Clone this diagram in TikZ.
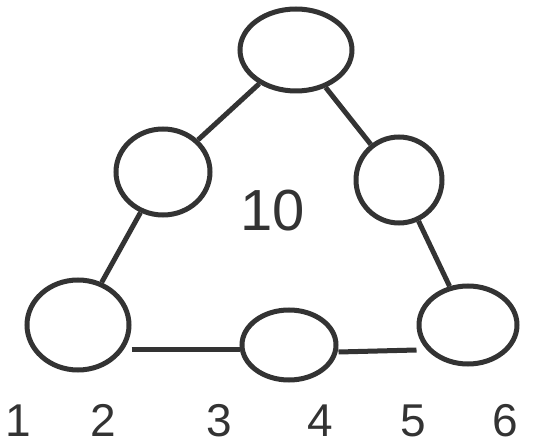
\documentclass[tikz,border=0pt]{standalone}
\usepackage{fontspec}
\setmainfont{Liberation Sans}
\usetikzlibrary{shapes.geometric}
\definecolor{ink}{HTML}{333333}
\tikzset{
  ball/.style={ellipse, draw=ink, line width=5pt, inner sep=0pt},
  link/.style={draw=ink, line width=5pt},
  num/.style={text=ink, font=\fontsize{46}{46}\selectfont, inner sep=0pt, anchor=base}
}
\begin{document}
\begin{tikzpicture}[x=1pt,y=1pt]
\useasboundingbox (0,0) rectangle (543,447);
\node[ball, minimum width=112pt, minimum height=82pt] (t) at (296,397) {};
\node[ball, minimum width=94pt, minimum height=86pt] (ml) at (163,275) {};
\node[ball, minimum width=86pt, minimum height=86pt] (mr) at (399,267) {};
\node[ball, minimum width=102pt, minimum height=90pt] (bl) at (78,122) {};
\node[ball, minimum width=94pt, minimum height=70pt] (bm) at (289,102) {};
\node[ball, minimum width=98pt, minimum height=78pt] (br) at (468,122) {};
\draw[link] (t) -- (ml);
\draw[link] (t) -- (mr);
\draw[link] (ml) -- (bl);
\draw[link] (mr) -- (br);
\draw[link] (bl.east |- 0,97) -- (bm.west |- 0,97);
\draw[link] (bm.east |- 0,95) -- (br.west |- 0,97);
\node[num, font=\fontsize{58}{58}\selectfont] (ten) at (273,216) {10};
\node[num] (n1) at (18,11) {1};
\node[num] (n2) at (103,11) {2};
\node[num] (n3) at (219,11) {3};
\node[num] (n4) at (320,11) {4};
\node[num] (n5) at (413,11) {5};
\node[num] (n6) at (505,11) {6};
\end{tikzpicture}
\end{document}
